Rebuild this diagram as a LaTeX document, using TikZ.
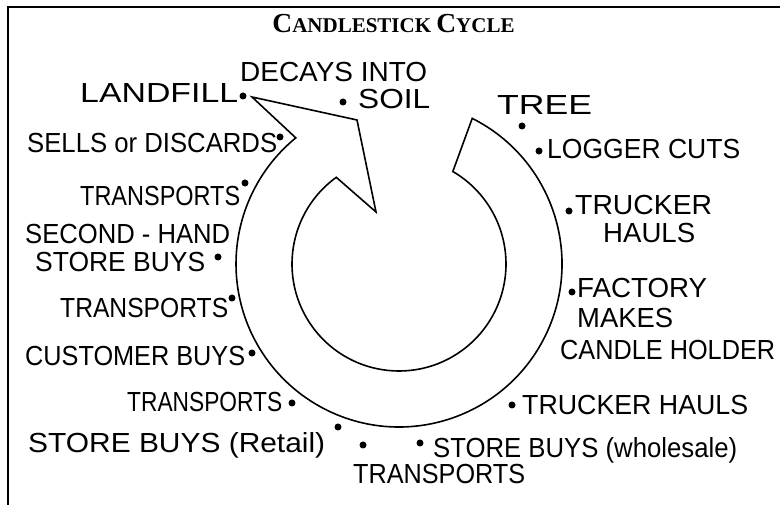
\documentclass[tikz,border=0pt]{standalone}
\usepackage{fontspec}
\usepackage{graphicx}
\newfontfamily\handfont{Liberation Sans}
\newfontfamily\titlefont{Liberation Serif}
\newcommand\hw[2]{\resizebox{#1pt}{1.15\height}{\handfont\fontsize{24}{24}\selectfont #2}}
\tikzset{
  lab/.style={inner sep=0pt, anchor=base west},
  dot/.style={circle, fill=black, inner sep=0pt, minimum size=7pt},
  ring/.style={line width=1.6pt, line join=miter},
  frame/.style={line width=2pt}
}
\begin{document}
\begin{tikzpicture}[x=1pt,y=1pt]
\useasboundingbox (0,0) rectangle (780,505);
% frame
\draw[frame] (8,0) -- (8,497.5) -- (780,497.5);
% title
\node[inner sep=0pt, anchor=base] (title) at (393.5,472)
  {\titlefont\bfseries\fontsize{27.5}{28}\selectfont C\fontsize{21}{22}\selectfont ANDLESTICK \fontsize{27.5}{28}\selectfont C\fontsize{21}{22}\selectfont YCLE};
% ring arrow
\coordinate (O) at (399,241);
\draw[ring] ([shift={(63.3:163)}]O) arc[start angle=63.3, end angle=-230.7, radius=163]
  -- (252,408) -- (357,385) -- (376,293)
  -- ([shift={(125.9:107)}]O) arc[start angle=125.9, end angle=419.8, radius=107] -- cycle;
% labels
\node[lab] (landfill) at (80,402) {\hw{158}{LANDFILL}};
\node[lab] (decays) at (240,423) {\hw{187}{DECAYS INTO}};
\node[lab] (soil) at (358,396) {\hw{72}{SOIL}};
\node[lab] (sells) at (27,352) {\hw{250}{SELLS or DISCARDS}};
\node[lab] (tr1) at (80,299) {\hw{160}{TRANSPORTS}};
\node[lab] (second) at (25,261) {\hw{205}{SECOND - HAND}};
\node[lab] (store2) at (35,233) {\hw{170}{STORE BUYS}};
\node[lab] (tr2) at (60,187) {\hw{168}{TRANSPORTS}};
\node[lab] (customer) at (25,139) {\hw{220}{CUSTOMER BUYS}};
\node[lab] (tr3) at (127,93) {\hw{155}{TRANSPORTS}};
\node[lab] (retail) at (28,52) {\hw{297}{STORE BUYS (Retail)}};
\node[lab] (tr4) at (353,21) {\hw{172}{TRANSPORTS}};
\node[lab] (wholesale) at (433,47) {\hw{304}{STORE BUYS (wholesale)}};
\node[lab] (truck2) at (522,90) {\hw{226}{TRUCKER HAULS}};
\node[lab] (factory) at (577,207) {\hw{130}{FACTORY}};
\node[lab] (makes) at (577,177) {\hw{96}{MAKES}};
\node[lab] (candle) at (560,145) {\hw{215}{CANDLE HOLDER}};
\node[lab] (tree) at (497,390) {\hw{95}{TREE}};
\node[lab] (logger) at (547,346) {\hw{193}{LOGGER CUTS}};
\node[lab] (trucker) at (575,290) {\hw{137}{TRUCKER}};
\node[lab] (hauls) at (603,262) {\hw{92}{HAULS}};
% dots
\node[dot] (d-landfill) at (243,409) {};
\node[dot] (d-soil) at (343,403) {};
\node[dot] (d-sells) at (280,368) {};
\node[dot] (d-tr1) at (245,322) {};
\node[dot] (d-store2) at (218,248) {};
\node[dot] (d-tr2) at (232,207) {};
\node[dot] (d-customer) at (252,152) {};
\node[dot] (d-tr3) at (292,102) {};
\node[dot] (d-retail) at (338,78) {};
\node[dot] (d-tr4) at (363,60) {};
\node[dot] (d-wholesale) at (420,62) {};
\node[dot] (d-truck2) at (512,100) {};
\node[dot] (d-factory) at (572,213) {};
\node[dot] (d-tree) at (522,379) {};
\node[dot] (d-logger) at (539,354) {};
\node[dot] (d-trucker) at (569,294) {};
\end{tikzpicture}
\end{document}
